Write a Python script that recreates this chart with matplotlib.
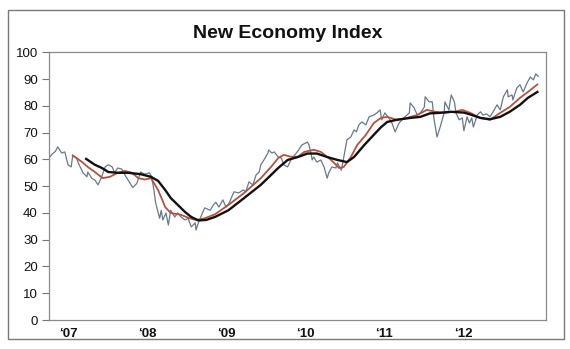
import matplotlib
matplotlib.use("Agg")
import matplotlib.pyplot as plt
from matplotlib.patches import Rectangle

plt.rcParams['font.family'] = ['Liberation Sans', 'DejaVu Sans']

# weekly index (thin grey-blue line)
index_t = [2006.76, 2006.80, 2006.84, 2006.87, 2006.92, 2006.96, 2007.00, 2007.04, 2007.06, 2007.11,
           2007.13, 2007.19, 2007.24, 2007.25, 2007.30, 2007.34, 2007.38, 2007.42, 2007.47, 2007.51,
           2007.56, 2007.59, 2007.63, 2007.68, 2007.72, 2007.76, 2007.82, 2007.87, 2007.92, 2007.97,
           2008.03, 2008.06, 2008.09, 2008.11, 2008.16, 2008.18, 2008.20, 2008.24, 2008.27, 2008.30,
           2008.35, 2008.39, 2008.43, 2008.48, 2008.52, 2008.56, 2008.61, 2008.62, 2008.65, 2008.68,
           2008.73, 2008.80, 2008.84, 2008.87, 2008.91, 2008.96, 2009.00, 2009.04, 2009.10, 2009.16,
           2009.22, 2009.25, 2009.29, 2009.34, 2009.38, 2009.42, 2009.44, 2009.48, 2009.53, 2009.54,
           2009.58, 2009.61, 2009.66, 2009.70, 2009.73, 2009.78, 2009.82, 2009.89, 2009.92, 2009.96,
           2010.03, 2010.05, 2010.08, 2010.09, 2010.11, 2010.15, 2010.20, 2010.24, 2010.28, 2010.30,
           2010.34, 2010.39, 2010.41, 2010.46, 2010.49, 2010.53, 2010.58, 2010.62, 2010.65, 2010.68,
           2010.72, 2010.77, 2010.81, 2010.87, 2010.91, 2010.95, 2010.97, 2011.01, 2011.06, 2011.10,
           2011.14, 2011.19, 2011.25, 2011.32, 2011.33, 2011.38, 2011.42, 2011.46, 2011.51, 2011.52,
           2011.57, 2011.61, 2011.63, 2011.67, 2011.71, 2011.76, 2011.77, 2011.82, 2011.85, 2011.89,
           2011.91, 2011.95, 2011.99, 2012.01, 2012.05, 2012.08, 2012.11, 2012.13, 2012.18, 2012.22,
           2012.25, 2012.30, 2012.34, 2012.38, 2012.43, 2012.47, 2012.51, 2012.56, 2012.57, 2012.62,
           2012.63, 2012.68, 2012.72, 2012.76, 2012.81, 2012.85, 2012.89, 2012.92, 2012.95]
index_v = [60.6, 62.0, 63.0, 64.7, 62.4, 62.8, 58.0, 57.2, 61.3, 60.5,
           58.7, 55.0, 53.5, 55.3, 53.0, 52.3, 50.5, 53.0, 57.2, 58.0,
           57.2, 55.0, 56.8, 56.4, 54.2, 52.3, 49.5, 51.0, 55.3, 54.5,
           55.0, 53.5, 48.0, 43.7, 38.0, 41.0, 37.4, 40.0, 35.5, 41.0,
           38.5, 40.0, 38.5, 37.4, 38.0, 34.8, 36.3, 33.6, 36.3, 38.5,
           41.9, 41.0, 43.0, 44.0, 42.2, 44.9, 42.2, 43.7, 47.9, 47.5,
           48.6, 47.9, 51.6, 50.5, 54.2, 55.3, 58.0, 59.8, 62.4, 63.5,
           62.4, 62.8, 60.9, 60.5, 58.0, 57.2, 59.8, 62.4, 63.6, 65.4,
           66.5, 65.4, 61.7, 59.8, 60.9, 59.0, 59.8, 57.2, 53.0, 55.0,
           57.2, 56.8, 58.7, 56.0, 60.9, 67.3, 68.4, 71.0, 70.3, 72.9,
           74.0, 72.9, 75.9, 76.6, 77.4, 78.5, 74.8, 77.4, 75.5, 73.6,
           70.3, 73.6, 75.5, 77.4, 81.1, 79.3, 76.6, 77.4, 79.6, 83.4,
           81.5, 81.5, 75.5, 68.4, 72.1, 77.4, 81.5, 78.5, 84.1, 81.5,
           77.4, 74.8, 75.5, 70.7, 75.9, 73.6, 75.5, 72.1, 76.6, 77.8,
           76.6, 77.0, 75.9, 77.8, 80.4, 78.5, 83.4, 86.0, 83.4, 84.1,
           82.2, 86.7, 87.9, 85.2, 88.6, 90.8, 89.7, 92.0, 91.0]

# shorter moving average (red)
short_t = [2007.06, 2007.18, 2007.25, 2007.34, 2007.44, 2007.53, 2007.63, 2007.72, 2007.81, 2007.89,
           2007.97, 2008.05, 2008.14, 2008.23, 2008.30, 2008.43, 2008.54, 2008.62, 2008.73, 2008.86,
           2009.03, 2009.23, 2009.44, 2009.57, 2009.66, 2009.73, 2009.82, 2009.91, 2009.99, 2010.11,
           2010.20, 2010.33, 2010.43, 2010.49, 2010.58, 2010.66, 2010.77, 2010.87, 2010.96, 2011.04,
           2011.16, 2011.29, 2011.42, 2011.54, 2011.65, 2011.76, 2011.89, 2011.99, 2012.09, 2012.22,
           2012.34, 2012.47, 2012.59, 2012.72, 2012.82, 2012.94]
short_v = [61.5, 59.0, 57.2, 55.3, 53.0, 53.5, 55.0, 55.7, 55.0, 53.0,
           52.5, 53.0, 48.6, 42.2, 40.0, 39.3, 38.0, 37.4, 38.0, 39.5,
           43.0, 47.5, 53.0, 57.2, 60.5, 61.7, 61.0, 61.0, 62.8, 63.6,
           62.8, 59.8, 56.8, 57.2, 60.9, 65.4, 69.2, 73.6, 75.5, 75.9,
           74.8, 75.5, 76.6, 78.5, 77.8, 77.4, 77.8, 78.5, 77.4, 75.5,
           74.8, 77.4, 79.6, 83.0, 85.2, 88.0]

# longer moving average (black)
long_t = [2007.23, 2007.34, 2007.43, 2007.51, 2007.63, 2007.76, 2007.92, 2008.05, 2008.14, 2008.23,
          2008.30, 2008.39, 2008.48, 2008.56, 2008.65, 2008.75, 2008.86, 2009.03, 2009.23, 2009.44,
          2009.57, 2009.66, 2009.78, 2009.91, 2010.03, 2010.15, 2010.28, 2010.41, 2010.53, 2010.62,
          2010.75, 2010.87, 2010.96, 2011.04, 2011.16, 2011.33, 2011.46, 2011.58, 2011.71, 2011.84,
          2012.01, 2012.09, 2012.22, 2012.34, 2012.47, 2012.59, 2012.72, 2012.82, 2012.94]
long_v = [60.2, 58.0, 56.8, 55.3, 55.0, 55.0, 54.5, 53.5, 52.0, 48.6,
          45.6, 43.0, 40.4, 38.5, 37.2, 37.4, 38.5, 41.0, 45.6, 50.5,
          54.2, 56.8, 59.8, 60.9, 62.2, 62.2, 60.9, 59.8, 59.0, 60.9,
          65.4, 69.2, 72.0, 74.0, 74.8, 75.5, 75.9, 77.2, 77.4, 77.8,
          77.5, 76.8, 75.5, 75.0, 75.9, 77.8, 80.4, 83.0, 85.2]

year_ticks = [2007, 2008, 2009, 2010, 2011, 2012]
year_labels = ["\u201807", "\u201808", "\u201809", "\u201810", "\u201811", "\u201812"]
y_ticks = list(range(0, 101, 10))

fig = plt.figure(figsize=(5.7, 3.49), dpi=100)
fig.patches.append(Rectangle((0.014, 0.029), 0.975, 0.942, transform=fig.transFigure,
                             fill=False, edgecolor="#7a7a7a", linewidth=1.0))
fig.text(0.505, 0.905, "New Economy Index", ha="center", va="center",
         fontsize=14, fontweight="bold", color="#111111")

ax = fig.add_axes([0.086, 0.083, 0.872, 0.767])
ax.plot(index_t, index_v, color="#66798c", linewidth=0.9)
ax.plot(short_t, short_v, color="#b5523e", linewidth=1.3)
ax.plot(long_t, long_v, color="#111111", linewidth=1.7)

ax.set_xlim(2006.76, 2013.05)
ax.set_ylim(0, 100)
ax.set_yticks(y_ticks)
ax.set_xticks(year_ticks)
ax.set_xticklabels(year_labels, fontweight="bold")
ax.tick_params(axis="y", length=5, width=0.8, color="#777777", pad=3, labelsize=9.5, labelcolor="#111111")
ax.tick_params(axis="x", length=0, pad=6, labelsize=9.5, labelcolor="#111111")
for s in ax.spines.values():
    s.set_color("#8a8a8a")
    s.set_linewidth(0.9)

fig.savefig("out.png", dpi=100)
